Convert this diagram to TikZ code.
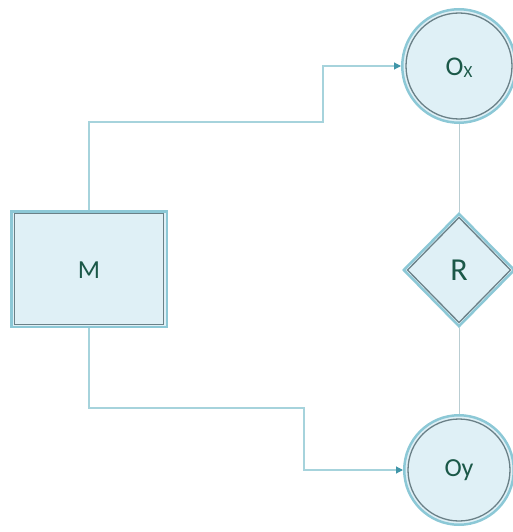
\documentclass[tikz,border=0pt]{standalone}
\usepackage{fontspec}
\setmainfont{Carlito}
\usetikzlibrary{shapes.geometric,arrows.meta}
\definecolor{fillc}{HTML}{DFF0F6}
\definecolor{outerc}{HTML}{8CC8D6}
\definecolor{innerc}{HTML}{6A8087}
\definecolor{textc}{HTML}{1B5848}
\definecolor{connc}{HTML}{A6D3DC}
\definecolor{vconnc}{HTML}{B9CDD2}
\definecolor{arrowc}{HTML}{3F95A8}
\tikzset{
  shapebase/.style={draw=outerc, line width=2.5pt, fill=fillc, text=textc, inner sep=0pt},
  circ/.style={shapebase, circle},
  rectbox/.style={shapebase, rectangle},
  diam/.style={shapebase, diamond},
  innerline/.style={draw=innerc, line width=1.3pt},
  conn/.style={draw=connc, line width=1.1pt},
  vconn/.style={draw=vconnc, line width=1pt},
  arr/.style={-{Triangle[length=7pt,width=7pt,color=arrowc]}}
}
\begin{document}
\begin{tikzpicture}[x=1pt,y=-1pt]
\useasboundingbox (0,0) rectangle (513,532);
% nodes
\node[circ, minimum size=113.5pt] (ox) at (459,66) {};
\draw[innerline] (ox.center) circle (53pt);
\node[text=textc, font=\fontsize{27}{27}\selectfont] (oxl) at (459,68) {O\raisebox{-2pt}{\fontsize{17}{17}\selectfont X}};

\node[circ, minimum size=109.5pt] (oy) at (459,470) {};
\draw[innerline] (oy.center) circle (51pt);
\node[text=textc, font=\fontsize{26}{26}\selectfont] (oyl) at (459,470) {Oy};

\node[rectbox, minimum width=155.5pt, minimum height=115.5pt] (m) at (89,269) {};
\draw[innerline] ([shift={(4.5,3.5)}]m.north west) rectangle ([shift={(-4.5,-3.5)}]m.south east);
\node[text=textc, font=\fontsize{26}{26}\selectfont] (ml) at (89,270) {M};

\node[diam, minimum width=111.5pt, minimum height=113.5pt] (r) at (459,270) {};
\draw[innerline] ([yshift=-5.5pt]r.north) -- ([xshift=-5.5pt]r.east) -- ([yshift=5.5pt]r.south) -- ([xshift=5.5pt]r.west) -- cycle;
\node[text=textc, font=\fontsize{32}{32}\selectfont] (rl) at (459,270) {R};

% connectors
\coordinate (a1) at (323,122);
\coordinate (b1) at (304,408);
\draw[conn, arr] (m.north) |- (a1) |- (ox.west);
\draw[conn, arr] (m.south) |- (b1) |- (oy.west);
\draw[vconn] (r.north) -- (ox.south);
\draw[vconn] (r.south) -- (oy.north);
\end{tikzpicture}
\end{document}
